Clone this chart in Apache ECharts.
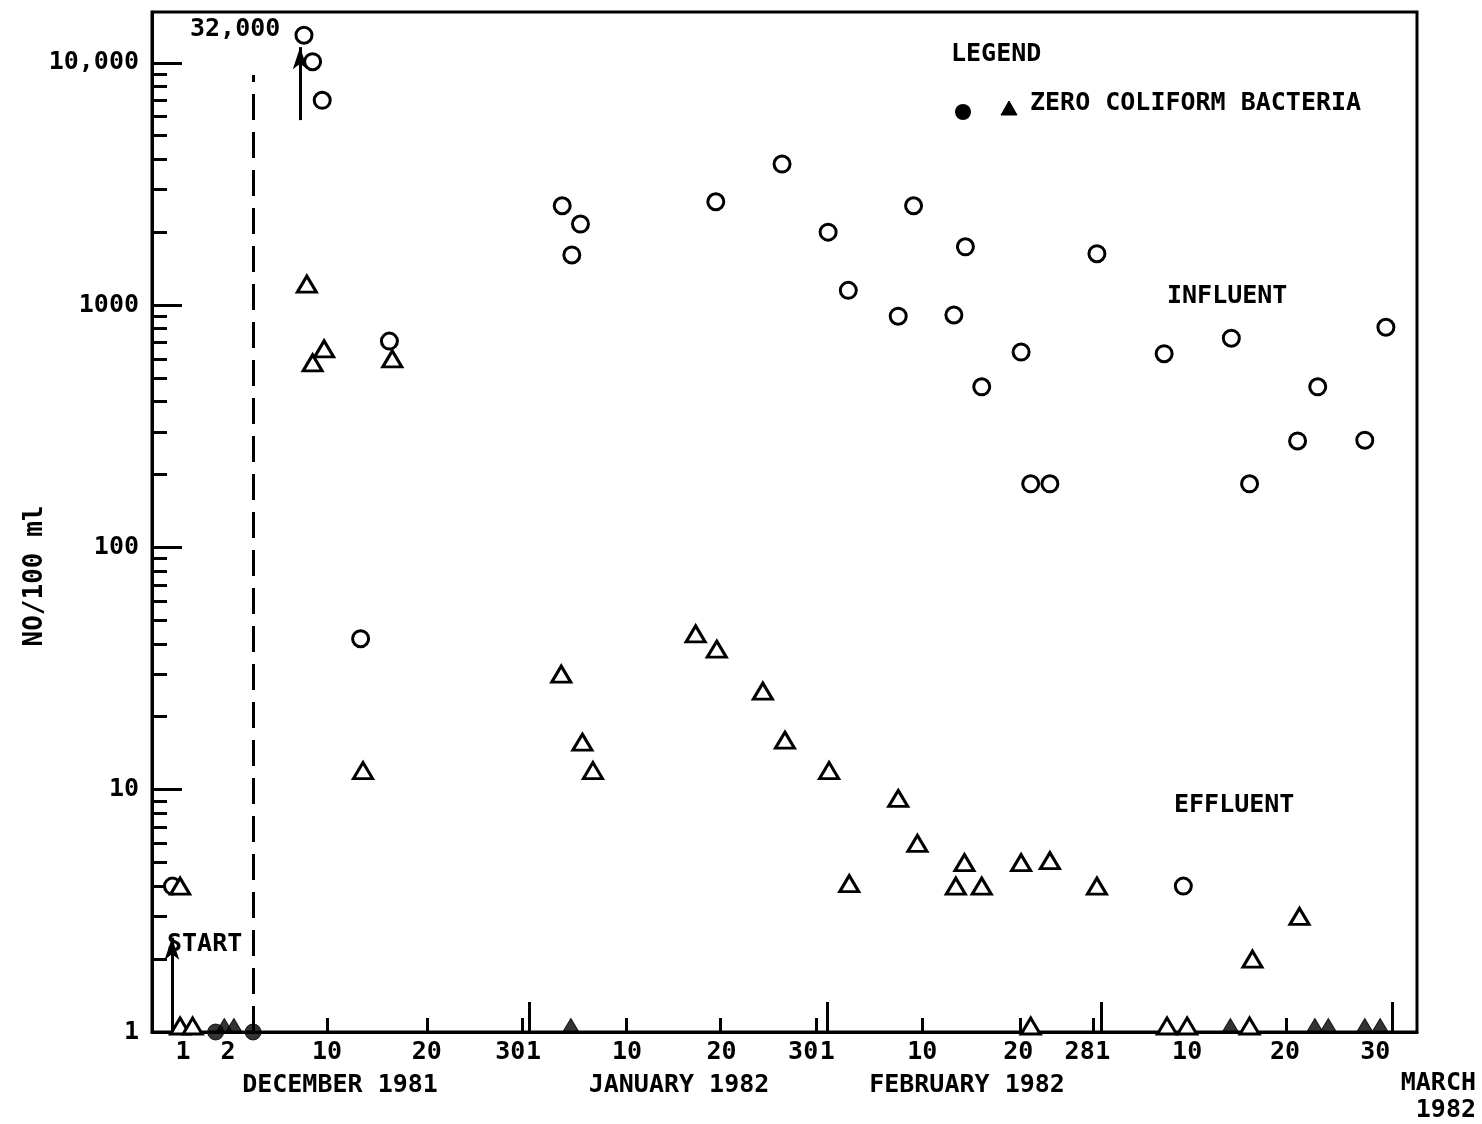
<!DOCTYPE html>
<html><head><meta charset="utf-8">
<script src="https://cdn.jsdelivr.net/npm/echarts@6/dist/echarts.min.js"></script>
<style>html,body{margin:0;padding:0;background:#fff}#c{width:1482px;height:1124px}</style>
</head><body><div id="c"></div>
<script>
// ---- data (x = day number, Dec 1 1981 = 1; y = NO/100 ml) ----
const influentDays   = [-6.1, 7.6, 8.5, 9.5, 13.5, 16.5, 34.5, 35.5, 36.4, 50.5, 57.4, 62.2, 64.3, 69.5, 71.1, 75.3, 76.5, 78.2, 82.3, 83.3, 85.3, 90.2, 97.2, 99.2, 104.2, 106.1, 111.1, 113.2, 118.1, 120.3];
const influentValues = [4, 13000, 10100, 7000, 42, 710, 2570, 1610, 2160, 2670, 3820, 2000, 1150, 900, 2570, 910, 1740, 460, 640, 183, 183, 1630, 630, 4, 730, 183, 275, 460, 277, 810];

const effluentDays   = [-5.3, -5.3, -4.0, 7.9, 8.5, 9.7, 13.75, 16.8, 34.4, 36.6, 37.7, 48.4, 50.6, 55.4, 57.7, 62.3, 64.4, 69.5, 71.5, 75.5, 76.4, 78.2, 82.3, 83.3, 85.3, 90.2, 97.5, 99.6, 106.1, 106.4, 111.3];
const effluentValues = [4, 1, 1, 1220, 577, 660, 12, 600, 30, 15.7, 12, 44, 38, 25.5, 16, 12, 4.1, 9.2, 6.0, 4.0, 5.0, 4.0, 5.0, 1, 5.1, 4.0, 1, 1, 1, 2.0, 3.0];

const zeroInfluentDays = [-1.6, 2.3];
const zeroEffluentDays = [-0.7, 0.3, 35.4, 104.1, 112.9, 114.3, 118.1, 119.7];
const ZERO_PLOT_VALUE = 1;

// ---- axes ----
const X_MIN = -8.23, X_MAX = 123.54;
const Y_MIN = 1, Y_MAX = 16200;
const xLabelDays  = [-5.0, -0.3, 10, 20.4, 29.1, 31.5, 41.25, 51.1, 59.6, 62.1, 72, 82, 88.4, 90.8, 99.6, 109.8, 119.2];
const xLabelTexts = ['1', '2', '10', '20', '30', '1', '10', '20', '30', '1', '10', '20', '28', '1', '10', '20', '30'];
const xShortTickDays = [10, 20.4, 30.3, 41.15, 51, 61, 72, 82.2, 89.8, 109.97];
const xTallTickDays  = [31.04, 62.1, 90.7, 121];
const yMajorTicks  = [1, 10, 100, 1000, 10000];
const yMajorLabels = ['1', '10', '100', '1000', '10,000'];
const yMinorTicks = [];
[1, 10, 100, 1000, 10000].forEach(d => { for (let k = 2; k <= 9; k++) { if (d * k < Y_MAX) yMinorTicks.push(d * k); } });

const monthTitles = ['DECEMBER 1981', 'JANUARY 1982', 'FEBRUARY 1982'];
const yTitle = 'NO/100 ml';

const FONT = '"DejaVu Sans Mono","Liberation Mono",monospace';
const FW = 'bold';
const FS = 25;
const BLACK = '#000';

function pts(xs, ys) {
  return xs.map((x, i) => ({ value: [x, ys[i]] }));
}
function triPts(xs, ys) {
  return xs.map((x, i) => {
    const item = { value: [x, ys[i]] };
    if (ys[i] === 1) item.symbolOffset = [0, -6];
    return item;
  });
}

const chart = echarts.init(document.getElementById('c'), null, { renderer: 'canvas' });

const txt = (opts) => Object.assign({ type: 'text', silent: true, z: 10 }, opts);
const tstyle = (s) => Object.assign({ fill: BLACK, fontSize: FS, fontFamily: FONT, fontWeight: FW }, s);

chart.setOption({
  animation: false,
  backgroundColor: '#fff',
  grid: { left: 152, right: 65, top: 12, bottom: 92, show: true, borderColor: BLACK, borderWidth: 3, backgroundColor: 'transparent' },
  xAxis: [
    {
      type: 'value', min: X_MIN, max: X_MAX, position: 'bottom',
      axisLine: { show: true, onZero: false, lineStyle: { color: BLACK, width: 3 } },
      axisTick: { show: true, inside: true, length: 14, customValues: xShortTickDays, lineStyle: { color: BLACK, width: 3 } },
      axisLabel: {
        customValues: xLabelDays, margin: 8, color: BLACK, fontSize: FS, fontFamily: FONT, fontWeight: FW,
        formatter: v => { const i = xLabelDays.findIndex(d => Math.abs(d - v) < 1e-6); return i >= 0 ? xLabelTexts[i] : ''; }
      },
      splitLine: { show: false }
    },
    {
      type: 'value', min: X_MIN, max: X_MAX, position: 'bottom',
      axisLine: { show: false, onZero: false },
      axisTick: { show: true, inside: true, length: 30, customValues: xTallTickDays, lineStyle: { color: BLACK, width: 3 } },
      axisLabel: { show: false },
      splitLine: { show: false }
    }
  ],
  yAxis: [
    {
      type: 'log', logBase: 10, min: Y_MIN, max: Y_MAX, position: 'left',
      axisLine: { show: true, onZero: false, lineStyle: { color: BLACK, width: 3 } },
      axisTick: { show: true, inside: true, length: 30, customValues: yMajorTicks, lineStyle: { color: BLACK, width: 3 } },
      axisLabel: {
        customValues: yMajorTicks, margin: 13, color: BLACK, fontSize: FS, fontFamily: FONT, fontWeight: FW,
        formatter: v => { const i = yMajorTicks.findIndex(d => Math.abs(d - v) / d < 1e-6); return i >= 0 ? yMajorLabels[i] : ''; }
      },
      splitLine: { show: false }, minorSplitLine: { show: false }
    },
    {
      type: 'log', logBase: 10, min: Y_MIN, max: Y_MAX, position: 'left',
      axisLine: { show: false, onZero: false },
      axisTick: { show: true, inside: true, length: 15, customValues: yMinorTicks, lineStyle: { color: BLACK, width: 3 } },
      axisLabel: { show: false },
      splitLine: { show: false }
    }
  ],
  series: [
    {
      name: 'INFLUENT', type: 'scatter', xAxisIndex: 0, yAxisIndex: 0,
      symbol: 'circle', symbolSize: 16,
      itemStyle: { color: '#fff', borderColor: BLACK, borderWidth: 3, opacity: 1 },
      data: pts(influentDays, influentValues), z: 3
    },
    {
      name: 'EFFLUENT', type: 'scatter', xAxisIndex: 0, yAxisIndex: 0,
      symbol: 'triangle', symbolSize: [19, 16],
      itemStyle: { color: '#fff', borderColor: BLACK, borderWidth: 3, opacity: 1 },
      data: triPts(effluentDays, effluentValues), z: 3
    },
    {
      name: 'ZERO INFLUENT', type: 'scatter', xAxisIndex: 0, yAxisIndex: 0,
      symbol: 'circle', symbolSize: 16,
      itemStyle: { color: BLACK, borderColor: BLACK, borderWidth: 1 },
      data: zeroInfluentDays.map(x => [x, ZERO_PLOT_VALUE]), z: 4,
      markLine: {
        silent: true, animation: false,
        label: { show: false },
        lineStyle: { color: BLACK, width: 3, type: 'solid' },
        symbol: ['none', 'none'],
        data: [
          [
            { coord: [2.3, 1], symbol: 'none', lineStyle: { type: [26, 12], width: 3, color: BLACK } },
            { coord: [2.3, 8900], symbol: 'none' }
          ],
          [
            { coord: [7.2, 5800], symbol: 'none', lineStyle: { type: 'solid', width: 3, color: BLACK } },
            { coord: [7.2, 11600], symbol: 'arrow', symbolSize: [11, 22] }
          ],
          [
            { coord: [-6.15, 1], symbol: 'none', lineStyle: { type: 'solid', width: 3, color: BLACK } },
            { coord: [-6.15, 2.45], symbol: 'arrow', symbolSize: [11, 22] }
          ]
        ]
      }
    },
    {
      name: 'ZERO EFFLUENT', type: 'scatter', xAxisIndex: 0, yAxisIndex: 0,
      symbol: 'triangle', symbolSize: [18, 15], symbolOffset: [0, -6],
      itemStyle: { color: BLACK, borderColor: BLACK, borderWidth: 1 },
      data: zeroEffluentDays.map(x => [x, ZERO_PLOT_VALUE]), z: 4
    }
  ],
  graphic: [
    txt({ x: 35, y: 576, rotation: Math.PI / 2, style: tstyle({ text: yTitle, fontSize: 26, textAlign: 'center', textVerticalAlign: 'middle' }) }),
    txt({ left: 190, top: 17, style: tstyle({ text: '32,000' }) }),
    txt({ left: 167, top: 932, style: tstyle({ text: 'START' }) }),
    txt({ left: 951, top: 42, style: tstyle({ text: 'LEGEND' }) }),
    { type: 'circle', silent: true, shape: { cx: 963, cy: 112, r: 8 }, style: { fill: BLACK } },
    { type: 'polygon', silent: true, shape: { points: [[1001, 115], [1017, 115], [1009, 101]] }, style: { fill: BLACK, stroke: BLACK, lineWidth: 1 } },
    txt({ left: 1030, top: 91, style: tstyle({ text: 'ZERO COLIFORM BACTERIA' }) }),
    txt({ left: 1167, top: 284, style: tstyle({ text: 'INFLUENT' }) }),
    txt({ left: 1174, top: 793, style: tstyle({ text: 'EFFLUENT' }) }),
    txt({ x: 340, y: 1085, style: tstyle({ text: monthTitles[0], textAlign: 'center', textVerticalAlign: 'middle' }) }),
    txt({ x: 679, y: 1085, style: tstyle({ text: monthTitles[1], textAlign: 'center', textVerticalAlign: 'middle' }) }),
    txt({ x: 967, y: 1085, style: tstyle({ text: monthTitles[2], textAlign: 'center', textVerticalAlign: 'middle' }) }),
    txt({ x: 1476, y: 1083, style: tstyle({ text: 'MARCH', textAlign: 'right', textVerticalAlign: 'middle' }) }),
    txt({ x: 1476, y: 1110, style: tstyle({ text: '1982', textAlign: 'right', textVerticalAlign: 'middle' }) })
  ]
});
</script></body></html>
